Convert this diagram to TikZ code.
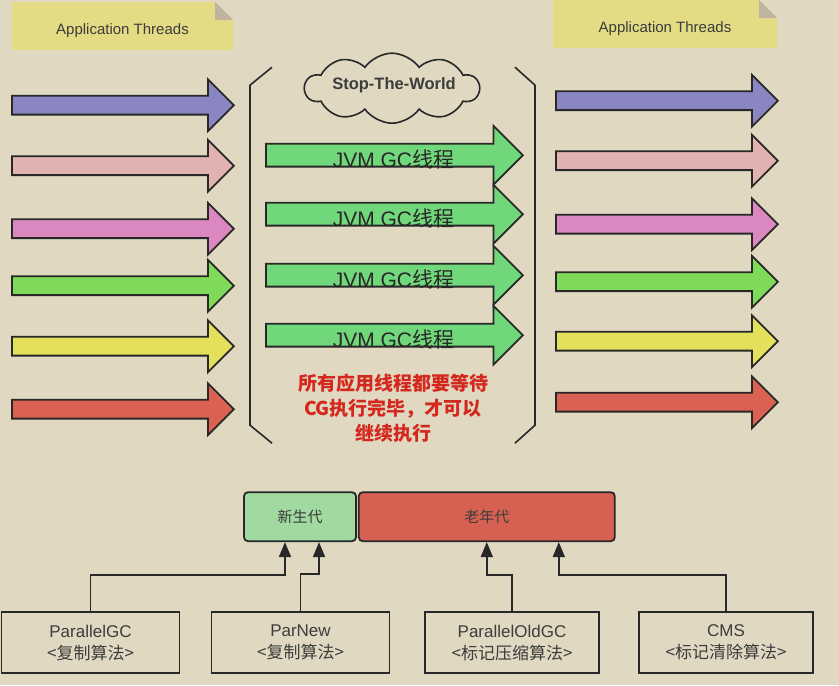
\documentclass[tikz,border=0pt]{standalone}
\usepackage{fontspec}
\setmainfont{Liberation Sans}
\newfontfamily\cjk{Noto Sans CJK SC}
\usetikzlibrary{shapes.arrows,shapes.symbols,arrows.meta,positioning}
\definecolor{fundo}{RGB}{224,216,193}
\definecolor{notaAmarela}{RGB}{228,220,132}
\definecolor{dobra}{RGB}{190,180,160}
\definecolor{contorno}{RGB}{40,40,40}
\definecolor{cinzaTexto}{RGB}{60,60,60}
\definecolor{roxo}{RGB}{138,134,194}
\definecolor{rosa}{RGB}{226,178,176}
\definecolor{rosaForte}{RGB}{219,135,192}
\definecolor{verde}{RGB}{128,218,90}
\definecolor{amarelo}{RGB}{228,224,92}
\definecolor{vermelho}{RGB}{219,97,82}
\definecolor{verdeGC}{RGB}{112,216,122}
\definecolor{verdeNovo}{RGB}{160,218,160}
\definecolor{vermelhoVelho}{RGB}{214,96,82}
\definecolor{textoVermelho}{RGB}{212,40,30}
\tikzset{
  nota/.style={fill=notaAmarela, minimum width=221pt, minimum height=48pt, inner sep=0pt,
               text height=19pt, text depth=3pt, font=\fontsize{15}{18}\selectfont, text=cinzaTexto},
  thread/.style={single arrow, draw=contorno, line width=1.8pt, minimum height=222pt,
                 text height=8.5pt, text depth=8.5pt, single arrow head extend=16.5pt,
                 inner sep=0pt, anchor=tail},
  gcseta/.style={thread, fill=verdeGC, minimum height=257pt, text height=10.5pt,
                 text depth=10.5pt, single arrow head extend=18pt},
  geracao/.style={rectangle, rounded corners=4pt, draw=contorno, line width=1.8pt,
                  minimum height=49pt, inner sep=0pt, font=\cjk\fontsize{15}{18}\selectfont, text=cinzaTexto},
  coletor/.style={rectangle, draw=contorno, line width=1.8pt, minimum width=178pt,
                  minimum height=61pt, align=center, font=\fontsize{17}{22}\selectfont, text=cinzaTexto},
  ligacao/.style={-{Triangle[length=15pt,width=12pt]}, line width=1.8pt, contorno},
  colchete/.style={line width=1.6pt, contorno},
}
\begin{document}
\begin{tikzpicture}[x=1pt, y=-1pt]
  \fill[fundo] (0,0) rectangle (839,685);
  % notas
  \node[nota] (notaE) at (122.5,26) {Application Threads};
  \node[nota, minimum width=224pt] (notaD) at (665,24) {Application Threads};
  \foreach \n in {notaE,notaD}{
    \fill[fundo] ([xshift=-18pt]\n.north east) -- (\n.north east) -- ([yshift=-18pt]\n.north east) -- cycle;
    \fill[dobra] ([xshift=-18pt]\n.north east) -- ([xshift=-18pt,yshift=-18pt]\n.north east)
      -- ([yshift=-18pt]\n.north east) -- cycle;
  }
  % threads
  \foreach \cor/\y [count=\i] in {roxo/105,rosa/165.5,rosaForte/228.5,verde/285.5,amarelo/346,vermelho/409}
    \node[thread, fill=\cor] (e\i) at (11,\y) {};
  \foreach \cor/\y [count=\i] in {roxo/100.5,rosa/160.5,rosaForte/224,verde/281.5,amarelo/341,vermelho/402}
    \node[thread, fill=\cor] (d\i) at (555,\y) {};
  % STW
  \draw[colchete] (272,67) -- (250,85) -- (250,425) -- (272,443);
  \draw[colchete] (515,67) -- (535,85) -- (535,425) -- (515,443);
  \node[cloud, cloud puffs=10, cloud puff arc=110, aspect=2.4, draw=contorno, line width=1.6pt,
        fill=fundo, minimum width=174pt, minimum height=70pt] (nuvem) at (392,88) {};
  \node[font=\bfseries\fontsize{16.5}{20}\selectfont, text=cinzaTexto] (stw) at (394,85) {Stop-The-World};
  \foreach \y [count=\i] in {155,214,275,335}{
    \node[gcseta] (gc\i) at (265,\y) {};
    \node[font=\fontsize{21}{24}\selectfont, text=contorno] (gct\i) at (393.5,\y+4) {JVM GC{\cjk 线程}};
  }
  \node[align=center, font=\cjk\bfseries\fontsize{19}{25}\selectfont, text=textoVermelho] (aviso) at (393,408)
    {所有应用线程都要等待\\CG执行完毕，才可以\\继续执行};
  % geracoes
  \node[geracao, fill=verdeNovo, minimum width=112pt] (novo) at (300,516.5) {新生代};
  \node[geracao, fill=vermelhoVelho, minimum width=256pt, right=1pt of novo] (velho) {老年代};
  % coletores
  \node[coletor] (pgc) at (90.5,642.5) {ParallelGC\\{\cjk <复制算法>}};
  \node[coletor] (parnew) at (300.5,642.5) {ParNew\\{\cjk <复制算法>}};
  \node[coletor, minimum width=174pt] (pold) at (512,642.5) {ParallelOldGC\\{\cjk <标记压缩算法>}};
  \node[coletor, minimum width=174pt] (cms) at (726,642.5) {CMS\\{\cjk <标记清除算法>}};
  \draw[ligacao] (pgc.north) -- ++(0,-36) -| ([xshift=-15pt]novo.south);
  \draw[ligacao] (parnew.north) -- ++(0,-37) -| ([xshift=19pt]novo.south);
  \draw[ligacao] (pold.north) -- ++(0,-36) -| (velho.south);
  \draw[ligacao] (cms.north) -- ++(0,-36) -| ([xshift=72pt]velho.south);
\end{tikzpicture}
\end{document}
